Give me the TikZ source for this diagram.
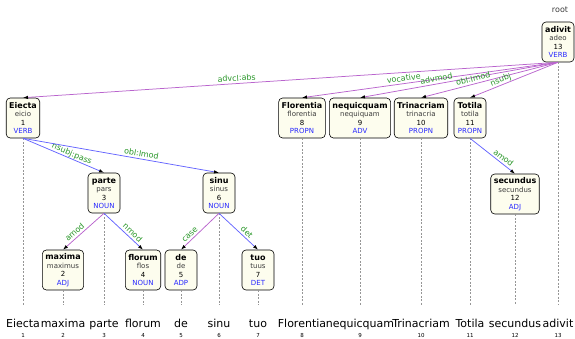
\documentclass[tikz,border=0pt]{standalone}
\usepackage{fontspec}
\setmainfont{DejaVu Sans}
\usetikzlibrary{arrows.meta}
\definecolor{ivory}{RGB}{253,253,238}
\definecolor{lemgray}{RGB}{60,60,60}
\definecolor{posblue}{RGB}{40,40,255}
\definecolor{edgepurple}{RGB}{185,100,205}
\definecolor{edgeblue}{RGB}{100,100,255}
\definecolor{labgreen}{RGB}{40,150,40}
\definecolor{guidegray}{RGB}{150,150,150}
\newcommand{\tokbox}[4]{{\fontsize{8}{8.5}\selectfont\bfseries #1}\\{\color{lemgray}#2}\\#3\\{\color{posblue}#4}}
\tikzset{
  tok/.style={draw, rounded corners=4pt, fill=ivory, align=center, minimum height=40pt,
    minimum width=32pt, inner xsep=3pt, inner ysep=0pt, line width=0.6pt,
    font=\fontsize{7}{8.5}\selectfont},
  word/.style={anchor=base, inner sep=0pt, font=\fontsize{11}{13}\selectfont},
  idx/.style={anchor=base, inner sep=0pt, font=\fontsize{5.5}{6}\selectfont},
  guide/.style={draw=guidegray, line width=0.5pt, dash pattern=on 2pt off 1.5pt},
  dep/.style={line width=0.75pt, -{Latex[length=5pt,width=3.5pt,black]}},
  left dep/.style={dep, draw=edgepurple},
  right dep/.style={dep, draw=edgeblue},
  lab/.style={sloped, anchor=base, yshift=2.5pt, inner sep=0pt, text=labgreen, font=\fontsize{8}{9}\selectfont}
}
\begin{document}
\begin{tikzpicture}[x=1pt,y=-1pt]
\useasboundingbox (0,0) rectangle (575,338);
% columns
\foreach \i/\x/\w in {1/23/Eiecta,2/63/maxima,3/104/parte,4/143/florum,5/181/de,6/219/sinu,7/258/tuo,8/302/Florentia,9/360/nequicquam,10/421/Trinacriam,11/470/Totila,12/515/secundus,13/558/adivit}{
  \node[word] (w\i) at (\x,327) {\w};
  \node[idx] (i\i) at (\x,337) {\i};
  \coordinate (b\i) at (\x,305);
}
% tokens
\node[tok] (n1) at (23,118) {\tokbox{Eiecta}{eicio}{1}{VERB}};
\node[tok] (n2) at (63,270) {\tokbox{maxima}{maximus}{2}{ADJ}};
\node[tok] (n3) at (104,193) {\tokbox{parte}{pars}{3}{NOUN}};
\node[tok] (n4) at (143,270) {\tokbox{florum}{flos}{4}{NOUN}};
\node[tok] (n5) at (181,270) {\tokbox{de}{de}{5}{ADP}};
\node[tok] (n6) at (219,193) {\tokbox{sinu}{sinus}{6}{NOUN}};
\node[tok] (n7) at (258,270) {\tokbox{tuo}{tuus}{7}{DET}};
\node[tok] (n8) at (302,118) {\tokbox{Florentia}{florentia}{8}{PROPN}};
\node[tok] (n9) at (360,118) {\tokbox{nequicquam}{nequiquam}{9}{ADV}};
\node[tok] (n10) at (421,118) {\tokbox{Trinacriam}{trinacria}{10}{PROPN}};
\node[tok] (n11) at (470,118) {\tokbox{Totila}{totila}{11}{PROPN}};
\node[tok] (n12) at (515,194) {\tokbox{secundus}{secundus}{12}{ADJ}};
\node[tok] (n13) at (558,42) {\tokbox{adivit}{adeo}{13}{VERB}};
\node[inner sep=0pt, text=lemgray, font=\fontsize{8}{9}\selectfont] (root) at (560,10) {root};
% guide lines
\foreach \i in {1,...,13}{
  \draw[guide] (n\i.south) -- (b\i);
}
% edges
\draw[left dep] (n13.south) -- node[lab, pos=0.60] {advcl:abs} (n1.north);
\draw[left dep] (n13.south) -- node[lab, pos=0.60] {vocative} (n8.north);
\draw[left dep] (n13.south) -- node[lab, pos=0.61] {advmod} (n9.north);
\draw[left dep] (n13.south) -- node[lab, pos=0.61] {obl:lmod} (n10.north);
\draw[left dep] (n13.south) -- node[lab, pos=0.63] {nsubj} (n11.north);
\draw[right dep] (n1.south) -- node[lab, pos=0.58] {nsubj:pass} (n3.north);
\draw[right dep] (n1.south) -- node[lab, pos=0.60] {obl:lmod} (n6.north);
\draw[left dep] (n3.south) -- node[lab, pos=0.63] {amod} (n2.north);
\draw[right dep] (n3.south) -- node[lab, pos=0.64] {nmod} (n4.north);
\draw[left dep] (n6.south) -- node[lab, pos=0.68] {case} (n5.north);
\draw[right dep] (n6.south) -- node[lab, pos=0.62] {det} (n7.north);
\draw[right dep] (n11.south) -- node[lab, pos=0.67] {amod} (n12.north);
\end{tikzpicture}
\end{document}
